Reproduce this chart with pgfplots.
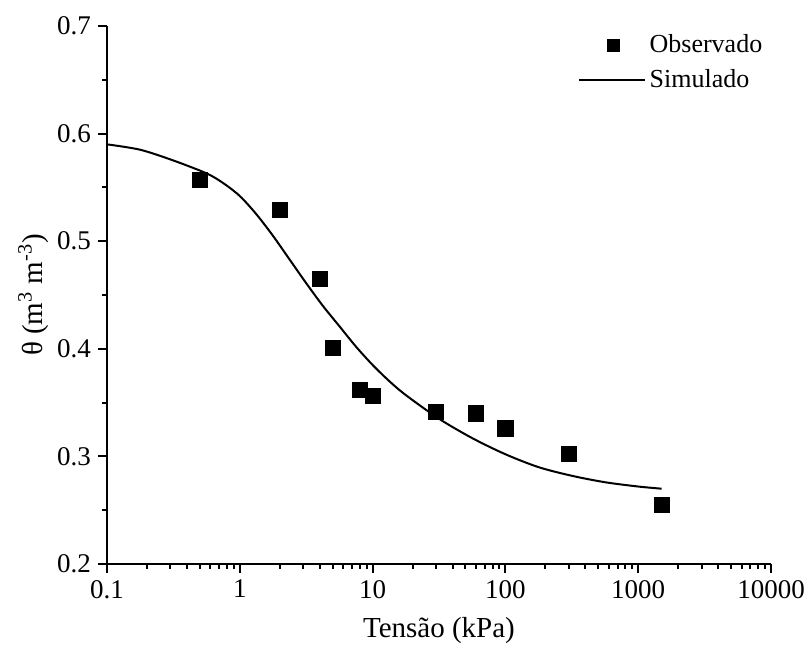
\documentclass[border=0pt]{standalone}
\usepackage{fontspec}
\setmainfont{Liberation Serif}
\usepackage{pgfplots}
\pgfplotsset{compat=1.18}
\begin{document}
\begin{tikzpicture}
\path[use as bounding box] (-53.5pt,-49.5pt) rectangle (350pt,282pt);
\begin{axis}[
  at={(0,0)}, anchor=south west,
  scale only axis, width=332pt, height=269pt,
  xmode=log, xmin=0.1, xmax=10000, ymin=0.2, ymax=0.7,
  axis x line=bottom, axis y line=left,
  axis line style={-, line width=1pt},
  tick style={line width=1pt, black},
  tick align=outside,
  major tick length=4.5pt, minor tick length=2.5pt,
  xtick={0.1,1,10,100,1000,10000},
  xticklabels={0.1,1,10,100,1000,10000},
  minor xtick={0.2,0.3,0.4,0.5,0.6,0.7,0.8,0.9,2,3,4,5,6,7,8,9,20,30,40,50,60,70,80,90,200,300,400,500,600,700,800,900,2000,3000,4000,5000,6000,7000,8000,9000},
  ytick={0.2,0.3,0.4,0.5,0.6,0.7},
  minor ytick={0.25,0.35,0.45,0.55,0.65},
  yticklabel style={/pgf/number format/fixed, /pgf/number format/precision=1, /pgf/number format/fixed zerofill},
  /pgf/number format/assume math mode=true,
  ticklabel style={font=\fontsize{13.5}{15}\selectfont},
  xlabel={Tensão (kPa)},
  ylabel={θ (m\textsuperscript{3} m\textsuperscript{-3})},
  label style={font=\fontsize{14.5}{16}\selectfont},
  xlabel style={at={(axis description cs:0.5,-0.123)}, anchor=center},
  ylabel style={at={(axis description cs:-0.111,0.5)}, anchor=center},
  legend style={draw=none, fill=none, at={(rel axis cs:0.70,1.0)}, anchor=north west,
    font=\fontsize{13}{15}\selectfont, row sep=3pt, legend cell align=left},
  clip=false,
]
\addplot[only marks, mark=square*, mark size=3.8pt, black,
  legend image code/.code={\draw[only marks, mark=square*, mark size=3pt] plot coordinates {(0.5cm,0cm)};}]
  coordinates {
  (0.5,0.557) (2,0.529) (4,0.465) (5,0.401) (8,0.362) (10,0.356)
  (30,0.341) (60,0.340) (100,0.326) (300,0.302) (1500,0.255)
};
\addlegendentry{Observado}
\addplot[black, line width=1pt, smooth, tension=0.5,
  legend image code/.code={\draw[line width=1pt] (-0.1cm,0cm) -- (1.05cm,0cm);}]
  coordinates {
  (0.1,0.590) (0.1778,0.585) (0.3162,0.575) (0.5623,0.563) (0.7499,0.554)
  (1,0.542) (1.334,0.525) (1.778,0.505) (2.371,0.483) (3.162,0.461)
  (4.217,0.440) (5.623,0.421) (7.499,0.402) (10,0.385) (13.34,0.370)
  (17.78,0.357) (31.62,0.335) (56.23,0.317) (100,0.302) (177.8,0.290)
  (316.2,0.282) (562.3,0.276) (1000,0.272) (1500,0.270)
};
\addlegendentry{Simulado}
\end{axis}
\end{tikzpicture}
\end{document}
